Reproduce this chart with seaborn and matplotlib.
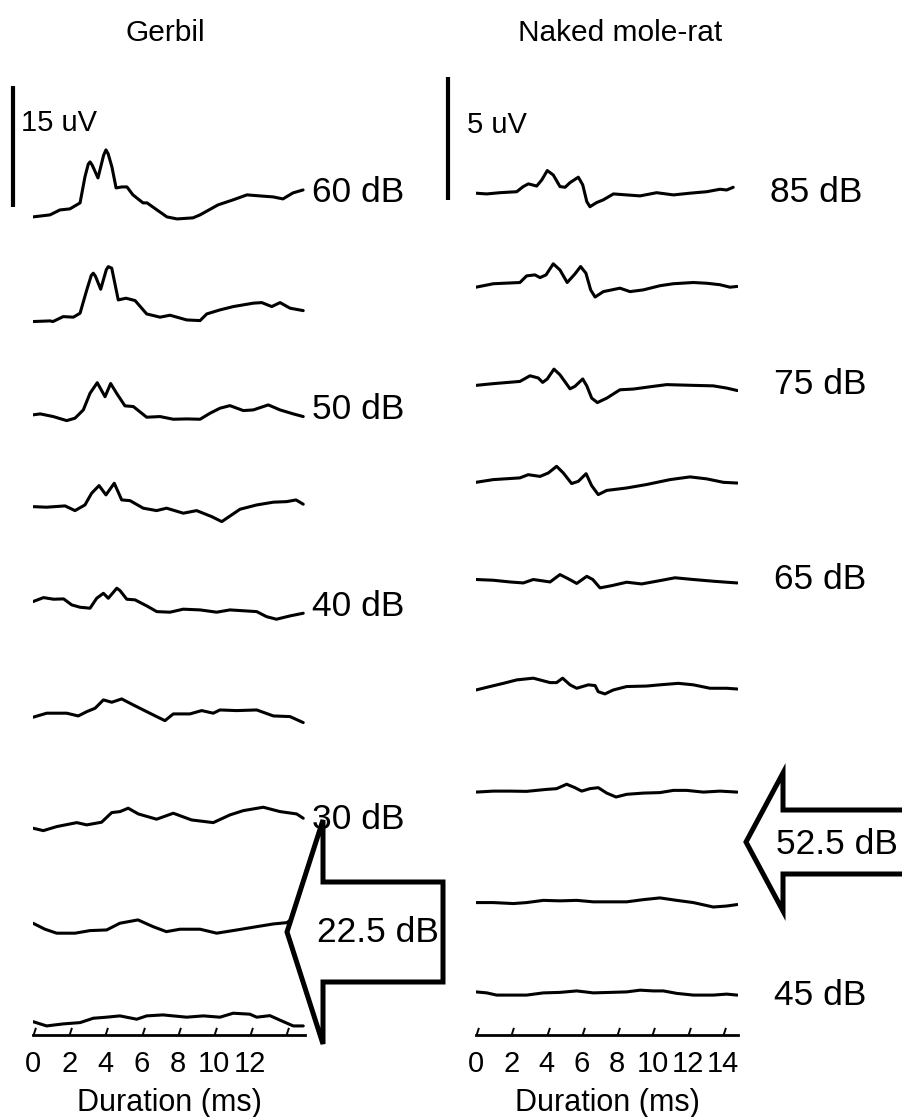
import matplotlib
matplotlib.use("Agg")
import matplotlib.pyplot as plt
import numpy as np
import pandas as pd
import seaborn as sns
from matplotlib.path import Path
from matplotlib.patches import Polygon

# ---------------- data (time in ms, amplitude in uV) ----------------
# Gerbil
g60_t = [0, 0.94, 1.49, 2.04, 2.6, 2.87, 3.05, 3.15, 3.27, 3.59, 3.9, 4.03, 4.15, 4.36, 4.59, 4.92, 5.19, 5.52, 6.08, 6.3, 6.85, 7.4, 7.96, 8.84, 9.23, 10.22, 11.05, 11.82, 12.54, 13.26, 13.81, 14.36, 14.92]
g60_v = [0, 0.25, 0.86, 0.99, 1.73, 4.94, 6.5, 6.79, 6.4, 4.81, 7.6, 8.27, 7.8, 6.17, 3.58, 3.7, 3.7, 2.72, 1.73, 1.73, 0.86, 0, -0.25, -0.12, 0.25, 1.48, 2.1, 2.72, 2.59, 2.47, 2.22, 2.96, 3.33]
g55_t = [0, 0.94, 1.1, 1.67, 2.23, 2.6, 2.97, 3.22, 3.33, 3.45, 3.74, 4.05, 4.16, 4.35, 4.71, 5.14, 5.64, 6.28, 7.02, 7.57, 8.49, 9.23, 9.6, 10.33, 11.07, 12.17, 12.64, 13.19, 13.65, 14.2, 14.93]
g55_v = [-0.5, -0.42, -0.5, 0.11, 0.04, 0.53, 3.4, 5.2, 5.47, 5.1, 3.49, 5.9, 6.28, 6.09, 2.17, 2.38, 2.09, 0.44, 0.04, 0.28, -0.3, -0.38, 0.44, 0.94, 1.35, 1.77, 1.84, 1.35, 1.84, 1.15, 0.85]
g50_t = [0, 0.4, 1.12, 1.86, 2.32, 2.78, 3.15, 3.55, 3.98, 4.29, 4.62, 5.08, 5.54, 6.28, 7.02, 7.75, 8.49, 9.23, 9.78, 10.33, 10.88, 11.62, 12.17, 13.0, 13.65, 14.38, 14.93]
g50_v = [0.4, 0.52, 0.19, -0.31, -0.01, 1.01, 3.06, 4.37, 2.64, 4.27, 3.06, 1.51, 1.43, 0.11, 0.19, -0.14, -0.1, -0.14, 0.6, 1.22, 1.54, 0.93, 1.01, 1.63, 1.01, 0.52, 0.19]
g45_t = [0, 0.75, 1.77, 2.32, 2.87, 3.24, 3.65, 4.03, 4.49, 4.9, 5.36, 6.09, 6.83, 7.38, 8.3, 9.04, 9.87, 10.43, 10.79, 11.44, 12.36, 13.28, 14.02, 14.53, 14.93]
g45_v = [1.49, 1.42, 1.58, 1.0, 1.7, 3.15, 4.09, 2.94, 4.38, 2.32, 2.23, 1.3, 1.0, 1.3, 0.68, 1.0, 0.26, -0.36, 0.19, 1.17, 1.7, 2.04, 2.11, 2.32, 1.79]
g40_t = [0, 0.58, 1.14, 1.69, 2.14, 2.6, 3.15, 3.52, 3.89, 4.16, 4.63, 4.81, 5.18, 5.64, 6.28, 6.84, 7.57, 8.3, 9.23, 10.15, 10.88, 12.36, 12.9, 13.45, 14.2, 14.93]
g40_v = [2.19, 2.68, 2.48, 2.52, 1.78, 1.49, 1.37, 2.6, 3.21, 2.6, 3.84, 3.54, 2.48, 2.4, 1.66, 0.95, 0.88, 1.25, 1.16, 0.88, 1.16, 0.95, 0.33, 0.01, 0.42, 0.75]
g35_t = [0, 0.76, 1.86, 2.5, 2.97, 3.43, 3.89, 4.35, 4.9, 5.54, 6.28, 6.83, 7.29, 7.75, 8.67, 9.32, 9.96, 10.33, 11.25, 12.36, 13.28, 14.2, 14.93]
g35_v = [0.33, 0.83, 0.83, 0.49, 1.02, 1.44, 2.47, 2.18, 2.59, 1.85, 1.02, 0.41, -0.09, 0.74, 0.74, 1.15, 0.83, 1.23, 1.15, 1.23, 0.49, 0.41, -0.33]
g30_t = [0, 0.57, 1.31, 2.42, 2.97, 3.79, 4.35, 4.81, 5.26, 5.82, 6.83, 7.75, 8.76, 9.96, 10.88, 11.62, 12.72, 13.65, 14.57, 14.93]
g30_v = [-0.95, -1.25, -0.75, -0.26, -0.54, -0.21, 0.98, 1.1, 1.52, 0.81, 0.16, 0.9, 0.07, -0.26, 0.69, 1.22, 1.64, 1.1, 0.81, 0.28]
g25_t = [0, 0.66, 1.31, 2.32, 3.15, 4.07, 4.8, 5.8, 6.63, 7.37, 8.12, 9.23, 10.15, 11.27, 12.37, 13.28, 14.02, 14.57, 14.93]
g25_v = [-0.26, -1.0, -1.49, -1.49, -1.17, -1.09, -0.26, 0.15, -0.68, -1.3, -1.0, -1.0, -1.49, -1.09, -0.68, -0.35, -0.19, 0.64, 0.98]
g20_t = [0, 0.75, 1.67, 2.6, 3.33, 4.07, 4.8, 5.73, 6.28, 7.18, 8.49, 9.41, 10.33, 11.06, 11.98, 12.36, 13.09, 13.83, 14.38, 14.93]
g20_v = [0.01, -0.52, -0.27, -0.11, 0.43, 0.56, 0.72, 0.31, 0.72, 0.84, 0.56, 0.72, 0.56, 1.05, 0.93, 0.56, 0.75, 0.01, -0.52, -0.52]

# Naked mole-rat
m85_t = [0, 0.61, 1.36, 2.31, 2.68, 2.97, 3.44, 3.73, 4.04, 4.38, 4.76, 5.05, 5.33, 5.8, 6.05, 6.28, 6.46, 6.84, 7.22, 7.79, 8.54, 9.3, 10.24, 11.19, 12.13, 13.08, 13.83, 14.21, 14.58]
m85_v = [-0.01, -0.04, 0.01, 0.05, 0.26, 0.37, 0.28, 0.53, 0.91, 0.73, 0.26, 0.23, 0.42, 0.64, 0.33, -0.35, -0.56, -0.39, -0.28, -0.04, -0.08, -0.12, 0.01, -0.08, -0.01, 0.05, 0.15, 0.12, 0.23]
m80_t = [0, 0.98, 2.49, 2.87, 3.34, 3.63, 3.97, 4.38, 4.76, 5.17, 5.61, 5.93, 6.23, 6.5, 6.75, 7.22, 8.16, 8.73, 9.48, 10.43, 11.18, 12.32, 13.08, 13.83, 14.4, 14.81]
m80_v = [0.23, 0.37, 0.42, 0.69, 0.73, 0.62, 0.73, 1.18, 0.93, 0.42, 0.77, 1.07, 0.8, 0.12, -0.17, 0.05, 0.19, 0.05, 0.12, 0.29, 0.37, 0.42, 0.39, 0.33, 0.23, 0.26]
m75_t = [0, 0.98, 2.49, 3.06, 3.53, 3.78, 4.04, 4.42, 4.76, 5.33, 5.61, 6.05, 6.28, 6.56, 6.88, 7.41, 8.16, 8.92, 10.05, 10.81, 12.32, 13.45, 14.21, 14.81]
m75_v = [0.3, 0.37, 0.46, 0.69, 0.6, 0.42, 0.56, 0.96, 0.73, 0.16, 0.26, 0.56, 0.28, -0.22, -0.4, -0.22, 0.12, 0.15, 0.26, 0.33, 0.3, 0.28, 0.19, 0.09]
m70_t = [0, 0.98, 2.49, 2.96, 3.63, 4.1, 4.57, 4.95, 5.42, 5.8, 6.24, 6.56, 6.93, 7.41, 8.54, 9.67, 11.0, 12.13, 13.08, 14.02, 14.81]
m70_v = [0.42, 0.53, 0.6, 0.73, 0.66, 0.8, 1.07, 0.8, 0.37, 0.46, 0.77, 0.28, -0.08, 0.09, 0.19, 0.33, 0.53, 0.64, 0.56, 0.42, 0.39]
m65_t = [0, 0.98, 1.93, 2.68, 3.25, 4.2, 4.76, 5.23, 5.71, 6.28, 6.62, 7.03, 7.69, 8.54, 9.39, 10.24, 11.28, 12.32, 13.45, 14.21, 14.81]
m65_v = [0.53, 0.5, 0.43, 0.39, 0.53, 0.43, 0.73, 0.56, 0.37, 0.66, 0.53, 0.19, 0.28, 0.42, 0.35, 0.46, 0.6, 0.53, 0.46, 0.42, 0.39]
m60_t = [0, 0.79, 1.55, 2.31, 3.25, 4.2, 4.57, 4.91, 5.33, 5.71, 6.37, 6.75, 6.93, 7.31, 7.78, 8.54, 9.67, 10.43, 11.47, 12.32, 13.27, 14.21, 14.81]
m60_v = [0.1, 0.24, 0.37, 0.51, 0.58, 0.4, 0.4, 0.58, 0.31, 0.17, 0.31, 0.28, 0.03, -0.06, 0.1, 0.24, 0.26, 0.31, 0.37, 0.31, 0.17, 0.17, 0.14]
m55_t = [0, 0.98, 1.93, 2.87, 4.0, 4.57, 5.14, 5.61, 5.99, 6.46, 6.93, 7.41, 7.94, 8.54, 9.49, 10.43, 11.19, 11.94, 12.89, 13.83, 14.81]
m55_v = [0.01, 0.05, 0.05, 0.04, 0.12, 0.15, 0.33, 0.19, 0.05, 0.15, 0.19, -0.03, -0.19, -0.08, -0.03, -0.01, 0.08, 0.08, 0.01, 0.05, 0.01]
m50_t = [0, 0.98, 2.12, 2.87, 3.82, 4.76, 5.71, 6.65, 7.6, 8.54, 9.49, 10.43, 11.38, 12.32, 13.45, 14.21, 14.81]
m50_v = [-0.42, -0.42, -0.46, -0.42, -0.33, -0.35, -0.33, -0.39, -0.39, -0.39, -0.3, -0.23, -0.33, -0.42, -0.6, -0.56, -0.5]
m45_t = [0, 0.61, 1.17, 2.12, 2.87, 3.82, 4.76, 5.71, 6.65, 7.6, 8.54, 9.3, 10.05, 10.62, 11.38, 12.32, 13.45, 14.21, 14.81]
m45_v = [0.01, -0.03, -0.12, -0.12, -0.12, -0.03, -0.01, 0.05, -0.03, -0.01, 0.01, 0.08, 0.05, 0.05, -0.05, -0.12, -0.12, -0.08, -0.12]

gerbil_traces = [(g60_t, g60_v), (g55_t, g55_v), (g50_t, g50_v), (g45_t, g45_v), (g40_t, g40_v),
                 (g35_t, g35_v), (g30_t, g30_v), (g25_t, g25_v), (g20_t, g20_v)]
molerat_traces = [(m85_t, m85_v), (m80_t, m80_v), (m75_t, m75_v), (m70_t, m70_v), (m65_t, m65_v),
                  (m60_t, m60_v), (m55_t, m55_v), (m50_t, m50_v), (m45_t, m45_v)]

gerbil_labels = {0: "60 dB", 2: "50 dB", 4: "40 dB", 6: "30 dB"}
molerat_labels = {0: "85 dB", 2: "75 dB", 4: "65 dB", 8: "45 dB"}
gerbil_ticklabels = ["0", "2", "4", "6", "8", "10", "12", ""]
molerat_ticklabels = ["0", "2", "4", "6", "8", "10", "12", "14"]
gerbil_scale_uV = 15
molerat_scale_uV = 5
gerbil_threshold = "22.5 dB"
molerat_threshold = "52.5 dB"

# ---------------- style / layout ----------------
sns.set_theme(style="white")
plt.rcParams["font.family"] = ["Liberation Sans", "DejaVu Sans"]
plt.rcParams["lines.solid_joinstyle"] = "round"
plt.rcParams["lines.solid_capstyle"] = "round"

W, H = 903, 1117
fig = plt.figure(figsize=(W / 100, H / 100), dpi=100)
fig.patch.set_facecolor("white")


def fx(x):
    return x / W


def fy(y):
    return 1 - y / H


AX_BOTTOM, AX_TOP = 1035, 60
axL = fig.add_axes([fx(33), fy(AX_BOTTOM), (305 - 33) / W, (AX_BOTTOM - AX_TOP) / H])
axR = fig.add_axes([fx(476), fy(AX_BOTTOM), (738 - 476) / W, (AX_BOTTOM - AX_TOP) / H])

panels = [
    dict(ax=axL, traces=gerbil_traces, pxms=18.1, pxuv=8.1, top_off=101.0, step=12.42,
         labels=gerbil_labels, ticklabels=gerbil_ticklabels, lab_dx=6.5,
         lab_dy={0: -2.2, 2: 4.8, 4: 4.5, 6: -1.2},
         bar_x=-1.13, bar_y=102.2, bar_len=gerbil_scale_uV, bar_txt_x=-0.66, bar_txt_f=0.69),
    dict(ax=axR, traces=molerat_traces, pxms=17.64, pxuv=24.6, top_off=34.23, step=4.061,
         labels=molerat_labels, ticklabels=molerat_ticklabels, lab_dx=26.5,
         lab_dy={0: -4.1, 2: 4.1, 4: 2.4, 8: 0},
         bar_x=-1.59, bar_y=33.94, bar_len=molerat_scale_uV, bar_txt_x=-0.51, bar_txt_f=0.61),
]
widths = {axL: 272, axR: 262}

slant = Path([(0, 0), (0.32, 1)], [Path.MOVETO, Path.LINETO])

for p in panels:
    ax = p["ax"]
    offsets = [p["top_off"] - k * p["step"] for k in range(len(p["traces"]))]
    rows = []
    for i, (t, v) in enumerate(p["traces"]):
        for tt, vv in zip(t, v):
            rows.append((i, tt, vv + offsets[i]))
    df = pd.DataFrame(rows, columns=["trace", "t", "y"])
    sns.lineplot(data=df, x="t", y="y", units="trace", estimator=None, sort=False,
                 color="black", linewidth=2.2, ax=ax, legend=False)
    ax.set_xlim(0, widths[ax] / p["pxms"])
    ax.set_ylim(0, (AX_BOTTOM - AX_TOP) / p["pxuv"])
    ax.set_facecolor("none")
    sns.despine(ax=ax, left=True)
    ax.set_yticks([])
    ax.set_ylabel("")
    ax.spines["bottom"].set_linewidth(2.0)
    ax.spines["bottom"].set_color("black")
    ax.set_xticks(list(range(0, 15, 2)))
    ax.set_xticklabels(p["ticklabels"])
    ax.tick_params(axis="x", direction="in", length=5, width=1.3, pad=11,
                   labelsize=21, colors="black", bottom=True)
    ax.set_xlabel("Duration (ms)", fontsize=22, labelpad=7, color="black")
    for tick in ax.xaxis.get_major_ticks():
        tick.tick1line.set_marker(slant)
        tick.tick1line.set_markersize(11)
        tick.tick1line.set_markeredgewidth(1.4)

    # level labels
    for k, txt in p["labels"].items():
        t, v = p["traces"][k]
        ax.annotate(txt, xy=(t[-1], v[-1] + offsets[k]), xytext=(p["lab_dx"], p["lab_dy"][k]),
                    textcoords="offset points", ha="left", va="center",
                    fontsize=25.5, color="black", annotation_clip=False)

    # scale bar
    ax.plot([p["bar_x"], p["bar_x"]], [p["bar_y"], p["bar_y"] + p["bar_len"]],
            color="black", lw=3.0, clip_on=False, solid_capstyle="butt")
    ax.text(p["bar_txt_x"], p["bar_y"] + p["bar_len"] * p["bar_txt_f"], f"{p['bar_len']} uV",
            ha="left", va="center", fontsize=21, color="black", clip_on=False)

# titles
fig.text(fx(165), fy(33), "Gerbil", ha="center", va="center", fontsize=21.5, color="black")
fig.text(fx(620), fy(33), "Naked mole-rat", ha="center", va="center", fontsize=21.5, color="black")


# threshold arrows (block arrows pointing left)
def block_arrow(tip_x, yc, head_x, head_half, shaft_half, right_x):
    pts = [(tip_x, yc), (head_x, yc - head_half), (head_x, yc - shaft_half),
           (right_x, yc - shaft_half), (right_x, yc + shaft_half),
           (head_x, yc + shaft_half), (head_x, yc + head_half)]
    pts = [(fx(x), fy(y)) for x, y in pts]
    poly = Polygon(pts, closed=True, facecolor="white", edgecolor="black", lw=3.6,
                   joinstyle="miter", transform=fig.transFigure, zorder=5)
    fig.patches.append(poly)


block_arrow(287, 932, 323, 112, 50, 443)
fig.text(fx(378), fy(932), gerbil_threshold, ha="center", va="center", fontsize=25.5,
         color="black", zorder=6)
block_arrow(746, 842, 783, 69, 32, 920)
fig.text(fx(837), fy(845), molerat_threshold, ha="center", va="center", fontsize=25.5,
         color="black", zorder=6)

fig.savefig("out.png", dpi=100, facecolor="white")
